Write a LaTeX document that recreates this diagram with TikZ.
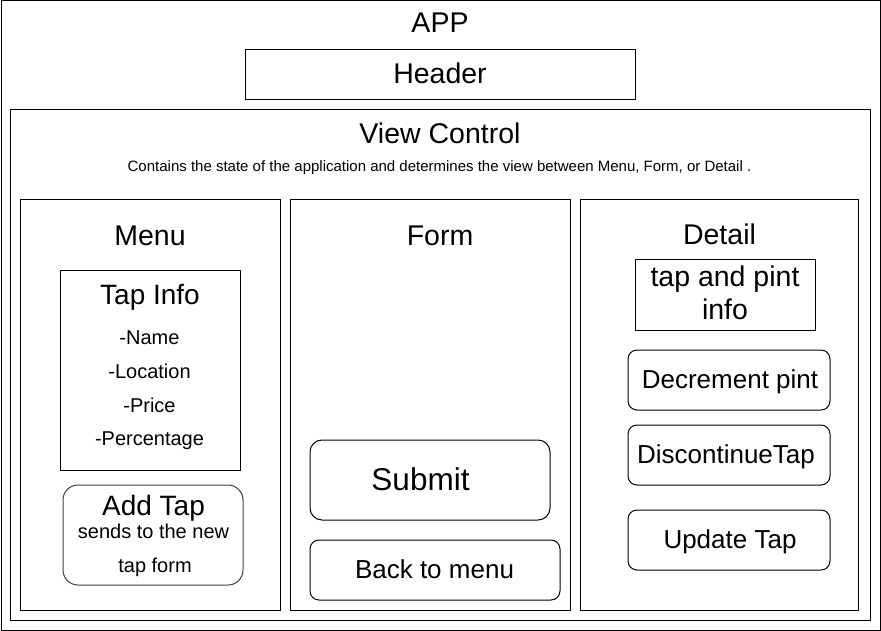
\documentclass[tikz,border=0pt]{standalone}
\usepackage{fontspec}
\setmainfont{Liberation Sans}
\newcommand{\fsz}[1]{\fontsize{#1}{#1}\selectfont}
\begin{document}
\begin{tikzpicture}[x=1pt,y=-1pt,
  box/.style={draw=black, line width=1pt, inner sep=0pt, outer sep=0pt, anchor=north west},
  rbox/.style={box, rounded corners=#1},
  rbox/.default=9pt,
  txt/.style={anchor=base, inner sep=0pt, text=black},
  title/.style={txt, font=\fsz{28.5}},
  mid/.style={txt, font=\fsz{26}},
  small/.style={txt, font=\fsz{20}},
  tiny/.style={txt, font=\fsz{15}}
]
\useasboundingbox (0,0) rectangle (881,631);
% boxes
\node[box, minimum width=879pt, minimum height=629pt] (app) at (1,1) {};
\node[box, minimum width=390pt, minimum height=50pt] (header) at (245,50) {};
\node[box, minimum width=860pt, minimum height=510pt] (vc) at (10,110) {};
\node[box, minimum width=260pt, minimum height=410pt] (menu) at (20,200) {};
\node[box, minimum width=280pt, minimum height=410pt] (form) at (290,200) {};
\node[box, minimum width=278pt, minimum height=410pt] (detail) at (580,200) {};
\node[box, minimum width=180pt, minimum height=200pt] (tapinfo) at (60,270) {};
\node[rbox=15pt, draw=black!75, minimum width=180pt, minimum height=100pt] (addtap) at (63,485) {};
\node[rbox=12pt, minimum width=240pt, minimum height=80pt] (submit) at (310,440) {};
\node[rbox=9pt, minimum width=250pt, minimum height=60pt] (back) at (310,540) {};
\node[box, minimum width=180pt, minimum height=70pt] (tpinfo) at (635,260) {};
\node[rbox=9pt, minimum width=202pt, minimum height=60pt] (decr) at (628,350) {};
\node[rbox=9pt, minimum width=202pt, minimum height=60pt] (disc) at (628,425) {};
\node[rbox=9pt, minimum width=202pt, minimum height=60pt] (upd) at (628,510) {};
% texts
\node[title] (tApp) at (440,33) {APP};
\node[title] (tHeader) at (440,84) {Header};
\node[title] (tVC) at (440,144) {View Control};
\node[tiny] (tDesc) at (439.5,172) {Contains the state of the application and determines the view between Menu, Form, or Detail .};
\node[title] (tMenu) at (150,246) {Menu};
\node[title] (tForm) at (440,246) {Form};
\node[title] (tDetail) at (719.5,245) {Detail};
\node[txt, font=\fsz{28}] (tTapInfo) at (150,305) {Tap Info};
\node[small] (tName) at (149.5,344) {-Name};
\node[small] (tLoc) at (149.5,378) {-Location};
\node[small] (tPrice) at (149.5,412) {-Price};
\node[small] (tPerc) at (149.5,445) {-Percentage};
\node[txt, font=\fsz{28}] (tAdd) at (153.5,515) {Add Tap};
\node[small] (tSends) at (153.5,538) {sends to the new};
\node[small] (tForm2) at (155,572) {tap form};
\node[txt, font=\fsz{31.5}] (tSubmit) at (420.5,490) {Submit};
\node[mid] (tBack) at (434.5,578) {Back to menu};
\node[title] (tTap1) at (725,287) {tap and pint};
\node[title] (tTap2) at (725,319) {info};
\node[mid] (tDecr) at (730,388) {Decrement pint};
\node[mid] (tDisc) at (726,463) {DiscontinueTap};
\node[mid] (tUpd) at (730,548) {Update Tap};
\end{tikzpicture}
\end{document}
